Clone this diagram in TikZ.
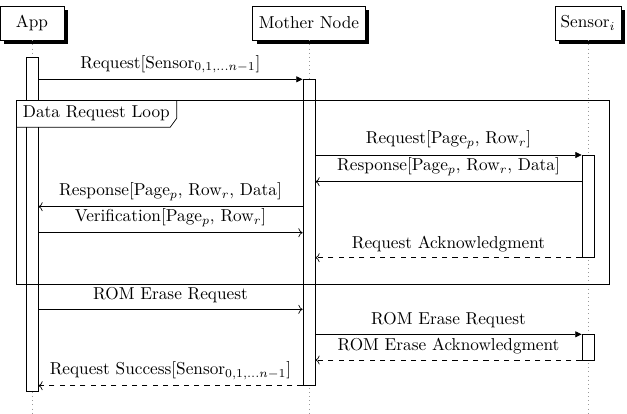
\documentclass[tikz,border=0pt]{standalone}
\usetikzlibrary{arrows.meta,shadows,fit}
\tikzset{
  inst/.style={draw, fill=white, minimum height=19.7pt, inner xsep=3.3pt,
    drop shadow={shadow xshift=2.3pt, shadow yshift=-2.3pt, fill=black, opacity=1}},
  lifeline/.style={dotted, gray!80},
  actbar/.style={draw, fill=white, inner sep=0pt},
  call/.style={-{Triangle[length=3.7pt,width=3.5pt]}},
  reply/.style={-{To}},
  ret/.style={dashed, -{To}},
  msg/.style={midway, above}
}
\begin{document}
\begin{tikzpicture}[x=0.58pt, y=-0.58pt]
\useasboundingbox (0,0) rectangle (627,413);
% instances
\node[inst, minimum width=37pt] (app) at (32,23) {App};
\node[inst, minimum width=65.5pt] (mom) at (309,23) {Mother Node};
\node[inst] (sen) at (588,23) {Sensor$_i$};
% lifelines
\draw[lifeline] (app.south) -- (app.south |- 0,413);
\draw[lifeline] (mom.south) -- (mom.south |- 0,413);
\draw[lifeline] (sen.south) -- (sen.south |- 0,413);
% activations
\node[actbar, fit={(26,57) (38,391.7)}] (appact) {};
\node[actbar, fit={(303,79.3) (315,385.7)}] (momact) {};
\node[actbar, fit={(582,155) (594,257.7)}] (senact) {};
\node[actbar, fit={(582,334.3) (594,360)}] (senactb) {};
% loop frame
\coordinate (loopnw) at (16,100);
\coordinate (loopse) at (609,284);
\node[fill=white, anchor=north west, inner xsep=3.8pt] (looplbl) at (loopnw) {Data Request Loop};
\draw (loopnw) rectangle (loopse);
\draw (looplbl.north east) -- ([yshift=5.2pt]looplbl.south east)
  -- ([xshift=-3.8pt]looplbl.south east) -- (looplbl.south west);
% message rows
\coordinate (r1) at (0,79.3);
\coordinate (r2) at (0,155);
\coordinate (r3) at (0,181.7);
\coordinate (r4) at (0,206.7);
\coordinate (r5) at (0,232.7);
\coordinate (r6) at (0,257.7);
\coordinate (r7) at (0,309.3);
\coordinate (r8) at (0,334.3);
\coordinate (r9) at (0,360);
\coordinate (r10) at (0,385.7);
% messages
\draw[call] (appact.east |- r1) -- node[msg]{Request[Sensor$_{0,1,\ldots n-1}$]} (momact.west |- r1);
\draw[call] (momact.east |- r2) -- node[msg]{Request[Page$_p$, Row$_r$]} (senact.west |- r2);
\draw[reply] (senact.west |- r3) -- node[msg]{Response[Page$_p$, Row$_r$, Data]} (momact.east |- r3);
\draw[reply] (momact.west |- r4) -- node[msg]{Response[Page$_p$, Row$_r$, Data]} (appact.east |- r4);
\draw[reply] (appact.east |- r5) -- node[msg]{Verification[Page$_p$, Row$_r$]} (momact.west |- r5);
\draw[ret] (senact.west |- r6) -- node[msg]{Request Acknowledgment} (momact.east |- r6);
\draw[reply] (appact.east |- r7) -- node[msg]{ROM Erase Request} (momact.west |- r7);
\draw[call] (momact.east |- r8) -- node[msg]{ROM Erase Request} (senactb.west |- r8);
\draw[ret] (senactb.west |- r9) -- node[msg]{ROM Erase Acknowledgment} (momact.east |- r9);
\draw[ret] (momact.west |- r10) -- node[msg]{Request Success[Sensor$_{0,1,\ldots n-1}$]} (appact.east |- r10);
\end{tikzpicture}
\end{document}
